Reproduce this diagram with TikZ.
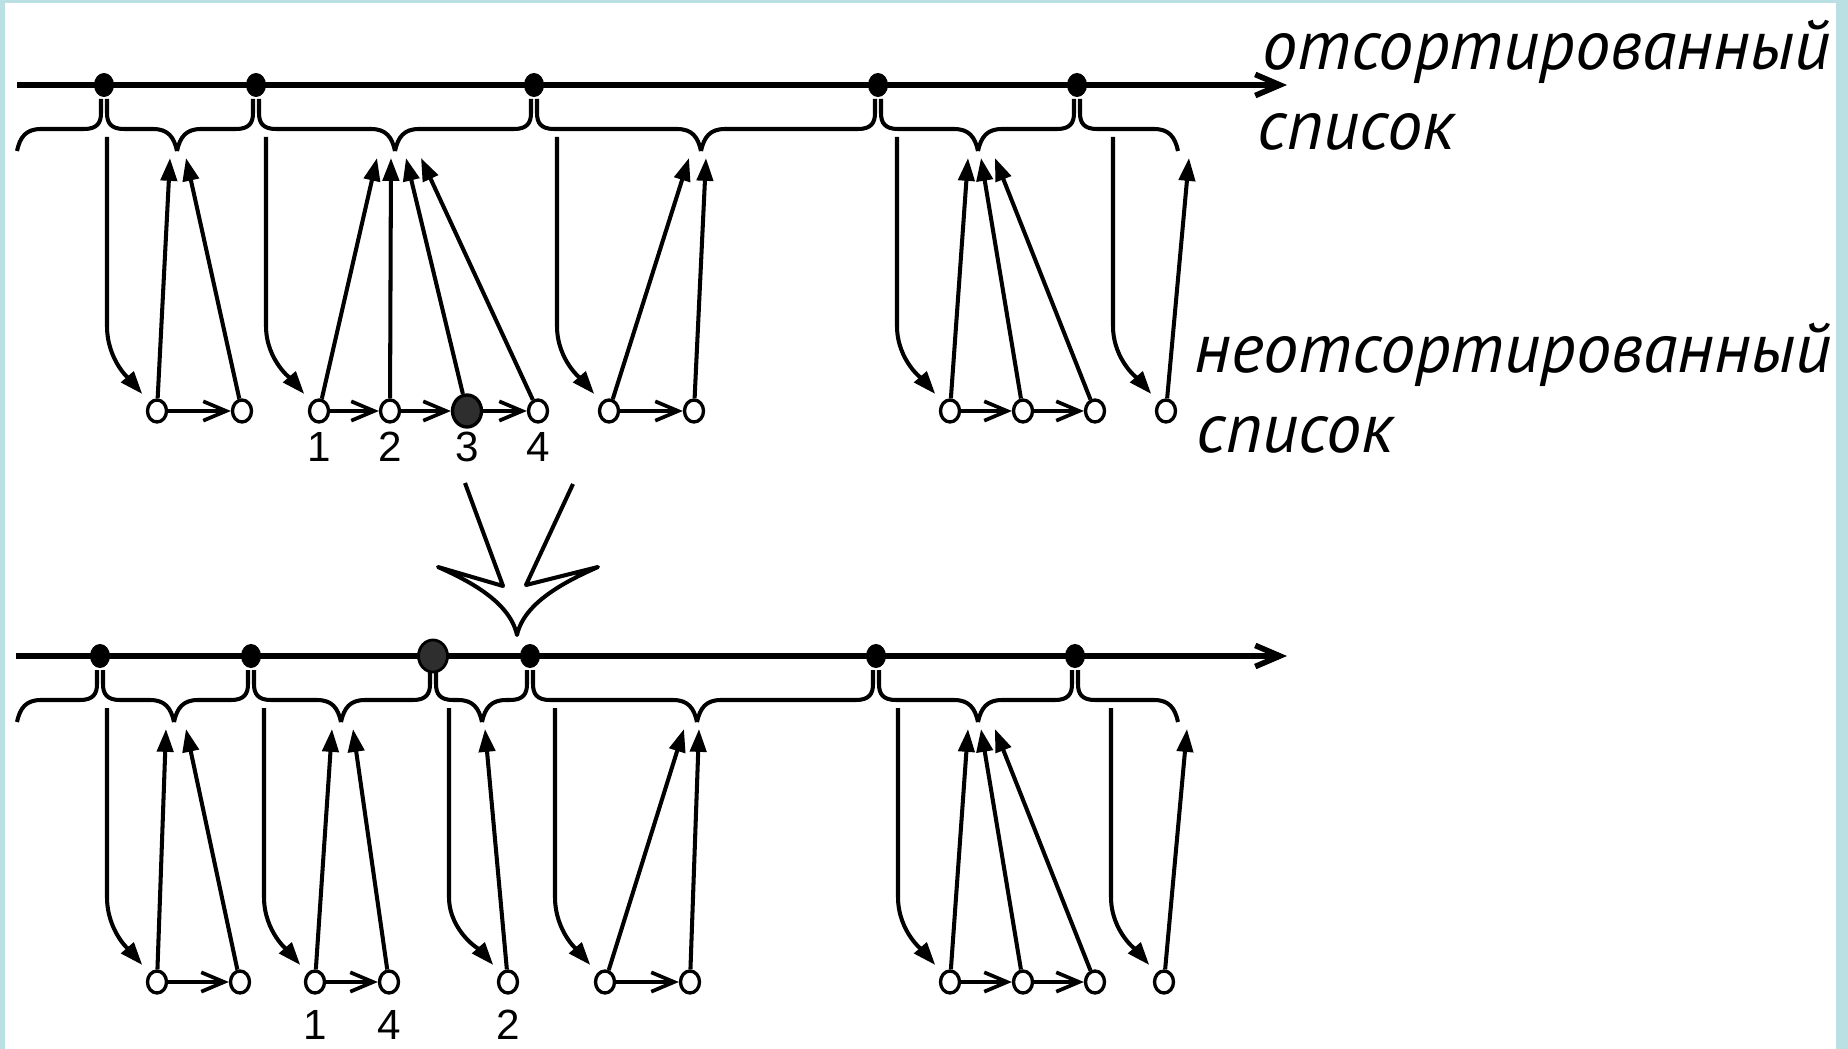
\documentclass[tikz,border=0pt]{standalone}
\usepackage{fontspec}
\setmainfont{Liberation Sans}
\newfontfamily\capfont{PT Sans}
\usetikzlibrary{arrows.meta,shapes.geometric}

\definecolor{framecyan}{HTML}{BBE0E3}

% one brace hanging under a key of the sorted list:
% #1 left end, #2 key x, #3 right end, #4 y of the list line
\newcommand\keybrace[4]{%
  \draw[brc] (#1,#4+66) .. controls (#1+3,#4+52) and (#1+9,#4+44) .. (#1+24,#4+44)
     -- (#2-20,#4+44) .. controls (#2-7,#4+44) and (#2-3,#4+38) .. (#2-3,#4+28) -- (#2-3,#4+14);
  \draw[brc] (#2+3,#4+14) -- (#2+3,#4+28) .. controls (#2+3,#4+38) and (#2+7,#4+44) .. (#2+20,#4+44)
     -- (#3-24,#4+44) .. controls (#3-9,#4+44) and (#3-3,#4+52) .. (#3,#4+66);
}

\begin{document}
\begin{tikzpicture}[x=0.01cm,y=-0.01cm,
  axis/.style={line width=1.6pt,-{Straight Barb[length=7pt,width=6pt]}},
  brc/.style={line width=1.15pt},
  keydot/.style={ellipse,fill=black,inner sep=0,minimum width=0.20cm,minimum height=0.24cm},
  graykey/.style={ellipse,draw=black,line width=0.8pt,fill=black!82,inner sep=0,minimum width=0.29cm,minimum height=0.32cm},
  item/.style={ellipse,draw=black,line width=0.95pt,fill=white,inner sep=0,minimum width=0.19cm,minimum height=0.22cm},
  grayitem/.style={item,fill=black!82,minimum width=0.29cm,minimum height=0.32cm},
  ptr/.style={line width=1.15pt,-{Triangle[length=6.5pt,width=4.6pt]}},
  down/.style={ptr,shorten >=3pt},
  link/.style={line width=1.05pt,-{Straight Barb[length=6.5pt,width=5.5pt]}},
  num/.style={font=\fontsize{12}{14}\selectfont,inner sep=0},
  caption/.style={font=\capfont\itshape\fontsize{20}{24}\selectfont,anchor=base west,inner sep=0},
  chev/.style={line width=1.15pt,line join=round}
]
% page and frame
\fill[framecyan] (0,0) rectangle (1848,1049);
\fill[white] (5,3) rectangle (1836,1049);
\useasboundingbox (0,0) rectangle (1848,1049);

% ================= upper state =================
\coordinate (ua0) at (17,85);
\coordinate (uaend) at (1287,85);
\draw[axis] (ua0) -- (uaend);

\keybrace{17}{104}{177}{85}
\keybrace{177}{256}{395}{85}
\keybrace{395}{534}{701}{85}
\keybrace{701}{878}{978}{85}
\keybrace{978}{1077}{1178}{85}

\node[keydot] (ua1) at (104,85) {};
\node[keydot] (ua2) at (256,85) {};
\node[keydot] (ua3) at (534,85) {};
\node[keydot] (ua4) at (878,85) {};
\node[keydot] (ua5) at (1077,85) {};

% unsorted items
\node[item] (up1) at (157,411) {};
\node[item] (up2) at (242,411) {};
\node[item] (uq1) at (319,411) {};
\node[item] (uq2) at (390,411) {};
\node[grayitem] (uq3) at (467,411) {};
\node[item] (uq4) at (538,411) {};
\node[item] (ur1) at (609,411) {};
\node[item] (ur2) at (694,411) {};
\node[item] (us1) at (950,411) {};
\node[item] (us2) at (1023,411) {};
\node[item] (us3) at (1095,411) {};
\node[item] (ut1) at (1166,411) {};

\node[num] (ul1) at (319,447) {1};
\node[num] (ul2) at (390,447) {2};
\node[num] (ul3) at (467,447) {3};
\node[num] (ul4) at (538,447) {4};

\draw[link] (up1) -- (up2);
\draw[link] (uq1) -- (uq2);
\draw[link] (uq2) -- (uq3);
\draw[link] (uq3) -- (uq4);
\draw[link] (ur1) -- (ur2);
\draw[link] (us1) -- (us2);
\draw[link] (us2) -- (us3);

% pointers from the keys down to the first item of each run
\coordinate (upd) at (107,137);
\coordinate (uqd) at (266,137);
\coordinate (urd) at (557,137);
\coordinate (usd) at (897,137);
\coordinate (utd) at (1113,137);
\foreach \s/\n in {upd/up1,uqd/uq1,urd/ur1,usd/us1,utd/ut1}
  \draw[down] (\s) -- ++(0,189) .. controls +(0,35) and +(-26,-30) .. (\n);

% pointers from the items back up to the braces
\coordinate (upu1) at (170,158);
\coordinate (upu2) at (186,158);
\coordinate (uqu1) at (377,158);
\coordinate (uqu2) at (391,158);
\coordinate (uqu3) at (406,158);
\coordinate (uqu4) at (421,158);
\coordinate (uru1) at (689,158);
\coordinate (uru2) at (706,158);
\coordinate (usu1) at (968,158);
\coordinate (usu2) at (981,158);
\coordinate (usu3) at (995,158);
\coordinate (utu1) at (1189,158);
\foreach \n/\t in {up1/upu1,up2/upu2,uq1/uqu1,uq2/uqu2,uq3/uqu3,uq4/uqu4,ur1/uru1,ur2/uru2,us1/usu1,us2/usu2,us3/usu3,ut1/utu1}
  \draw[ptr] (\n) -- (\t);

% ================= transition arrow =================
\coordinate (chL0) at (465,483);
\coordinate (chL1) at (503,586);
\coordinate (chLw) at (438,567);
\coordinate (chTip) at (517,635);
\coordinate (chRw) at (598,567);
\coordinate (chR1) at (526,585);
\coordinate (chR0) at (573,484);
\draw[chev] (chL0) -- (chL1) -- (chLw) .. controls (472,582) and (510,603) .. (chTip)
   .. controls (524,603) and (564,582) .. (chRw) -- (chR1) -- (chR0);

% ================= lower state =================
\coordinate (la0) at (16,656);
\coordinate (laend) at (1287,656);
\draw[axis] (la0) -- (laend);

\keybrace{17}{100}{174}{656}
\keybrace{174}{251}{341}{656}
\keybrace{341}{433}{482}{656}
\keybrace{482}{530}{697}{656}
\keybrace{697}{876}{978}{656}
\keybrace{978}{1075}{1178}{656}

\node[keydot] (la1) at (100,656) {};
\node[keydot] (la2) at (251,656) {};
\node[graykey] (lag) at (433,656) {};
\node[keydot] (la3) at (530,656) {};
\node[keydot] (la4) at (876,656) {};
\node[keydot] (la5) at (1075,656) {};

\node[item] (lp1) at (157,982) {};
\node[item] (lp2) at (240,982) {};
\node[item] (lq1) at (315,982) {};
\node[item] (lq2) at (389,982) {};
\node[item] (lr1) at (508,982) {};
\node[item] (ls1) at (605,982) {};
\node[item] (ls2) at (690,982) {};
\node[item] (lt1) at (950,982) {};
\node[item] (lt2) at (1023,982) {};
\node[item] (lt3) at (1095,982) {};
\node[item] (lu1) at (1164,982) {};

\node[num] (ll1) at (315,1025) {1};
\node[num] (ll4) at (389,1025) {4};
\node[num] (ll2) at (508,1025) {2};

\draw[link] (lp1) -- (lp2);
\draw[link] (lq1) -- (lq2);
\draw[link] (ls1) -- (ls2);
\draw[link] (lt1) -- (lt2);
\draw[link] (lt2) -- (lt3);

\coordinate (lpd) at (107,708);
\coordinate (lqd) at (264,708);
\coordinate (lrd) at (449,708);
\coordinate (lsd) at (555,708);
\coordinate (ltd) at (898,708);
\coordinate (lud) at (1111,708);
\foreach \s/\n in {lpd/lp1,lqd/lq1,lrd/lr1,lsd/ls1,ltd/lt1,lud/lu1}
  \draw[down] (\s) -- ++(0,189) .. controls +(0,35) and +(-26,-30) .. (\n);

\coordinate (lpu1) at (166,729);
\coordinate (lpu2) at (186,729);
\coordinate (lqu1) at (332,729);
\coordinate (lqu2) at (353,729);
\coordinate (lru1) at (485,729);
\coordinate (lsu1) at (684,729);
\coordinate (lsu2) at (699,729);
\coordinate (ltu1) at (968,729);
\coordinate (ltu2) at (981,729);
\coordinate (ltu3) at (995,729);
\coordinate (luu1) at (1187,729);
\foreach \n/\t in {lp1/lpu1,lp2/lpu2,lq1/lqu1,lq2/lqu2,lr1/lru1,ls1/lsu1,ls2/lsu2,lt1/ltu1,lt2/ltu2,lt3/ltu3,lu1/luu1}
  \draw[ptr] (\n) -- (\t);

% ================= captions =================
\node[caption] (cap1) at (1262,70) {отсортированный};
\node[caption] (cap2) at (1257,150) {список};
\node[caption] (cap3) at (1194,373) {неотсортированный};
\node[caption] (cap4) at (1196,453) {список};
\end{tikzpicture}
\end{document}
